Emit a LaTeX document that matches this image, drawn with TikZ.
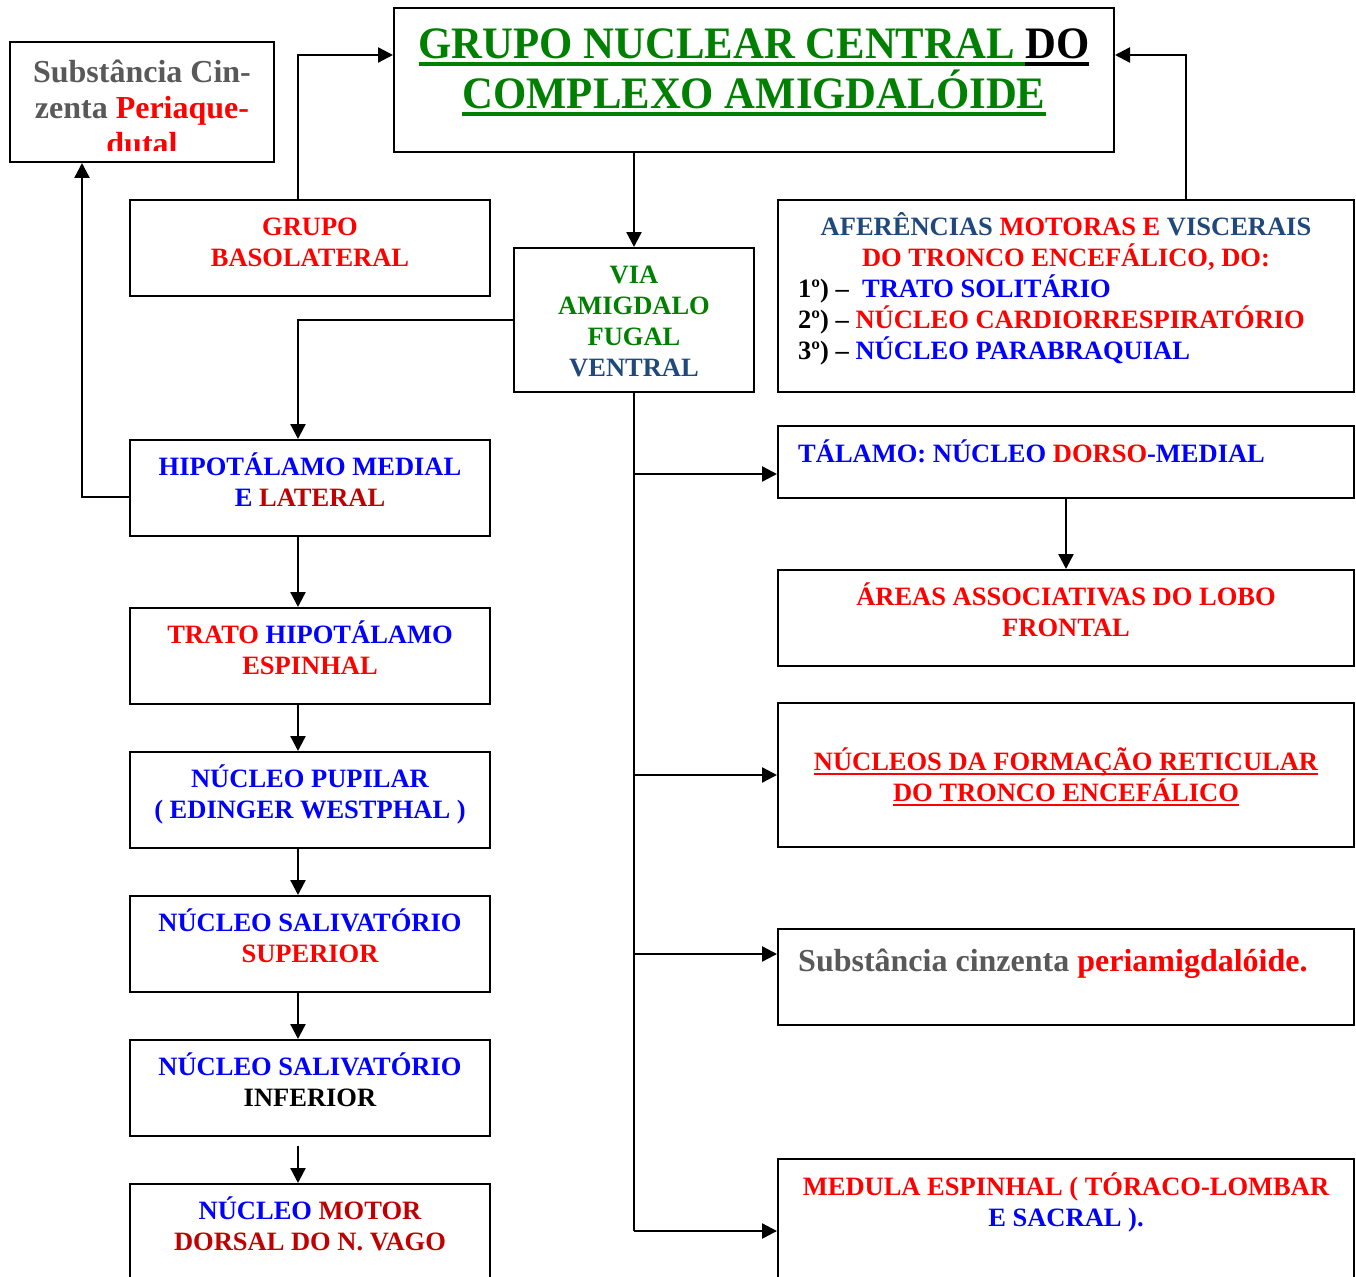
\documentclass[tikz,border=0pt]{standalone}
\usepackage{fontspec}
\setmainfont{Liberation Serif}
\usepackage{graphicx}
\usetikzlibrary{arrows.meta,calc}

\definecolor{cblue}{RGB}{0,0,255}
\definecolor{cred}{RGB}{255,0,0}
\definecolor{cdred}{RGB}{192,0,0}
\definecolor{cgreen}{RGB}{0,128,0}
\definecolor{cnavy}{RGB}{31,73,125}
\definecolor{cgray}{RGB}{89,89,89}

% fixed first-line height, so every label can be placed by its first baseline
\newcommand\fstrut{\rule{0pt}{26pt}}
% coloured underline: colour, depth below baseline, thickness, text
\newcommand\ulc[4]{\setbox0\hbox{{#4}}\rlap{\color{#1}\rule[-#2]{\wd0}{#3}}\box0}

\begin{document}
\begin{tikzpicture}[x=1pt,y=-1pt,
  box/.style={draw=black, line width=2pt, rectangle, inner sep=0pt},
  lbl/.style={inner sep=0pt, align=center, anchor=north,
              font=\fontsize{26.5}{31}\selectfont\bfseries},
  lbll/.style={lbl, align=left, anchor=north west},
  arr/.style={line width=2.4pt, -{Triangle[length=15pt,width=15pt]}},
  ln/.style={line width=2.4pt}]

\clip (0,0) rectangle (1356,1276);
\fill[white] (0,0) rectangle (1356,1276);

% ---------- boxes ----------
\node[box, minimum width=264pt, minimum height=120pt] (pag) at (142,102) {};
\node[box, minimum width=720pt, minimum height=144pt] (tt)  at (754,80) {};
\node[box, minimum width=360pt, minimum height=96pt]  (bl)  at (310,248) {};
\node[box, minimum width=240pt, minimum height=144pt] (via) at (634,320) {};
\node[box, minimum width=576pt, minimum height=192pt] (af)  at (1066,296) {};
\node[box, minimum width=360pt, minimum height=96pt]  (hip) at (310,488) {};
\node[box, minimum width=360pt, minimum height=96pt]  (tr)  at (310,656) {};
\node[box, minimum width=360pt, minimum height=96pt]  (pu)  at (310,800) {};
\node[box, minimum width=360pt, minimum height=96pt]  (ss)  at (310,944) {};
\node[box, minimum width=360pt, minimum height=96pt]  (si)  at (310,1088) {};
\node[box, minimum width=360pt, minimum height=120pt] (mo)  at (310,1244) {};
\node[box, minimum width=576pt, minimum height=72pt]  (ta)  at (1066,462) {};
\node[box, minimum width=576pt, minimum height=96pt]  (ar)  at (1066,618) {};
\node[box, minimum width=576pt, minimum height=144pt] (nf)  at (1066,775) {};
\node[box, minimum width=576pt, minimum height=96pt]  (sc)  at (1066,977) {};
\node[box, minimum width=576pt, minimum height=144pt] (me)  at (1066,1231) {};

% ---------- labels ----------
\begin{scope}
  \clip (12,44) rectangle (272,151);
  \node[lbl, font=\fontsize{32}{36}\selectfont\bfseries] (pagt) at (142,56)
    {\fstrut\color{cgray}Substância Cin-\\ \color{cgray}zenta \color{cred}Periaque-\\ \color{cred}dutal};
\end{scope}

\node[lbl, font=\fontsize{45}{50}\selectfont\bfseries] (ttt) at (754,24)
  {\rule{0pt}{34pt}\scalebox{0.95}[1]{\ulc{cgreen}{8pt}{4pt}{\color{cgreen}GRUPO NUCLEAR CENTRAL }\ulc{black}{8pt}{4pt}{\color{black}DO}}\\
   \scalebox{0.95}[1]{\ulc{cgreen}{8pt}{4pt}{\color{cgreen}COMPLEXO AMIGDALÓIDE}}};

\node[lbl] (blt) at (310,209) {\fstrut\color{cred}GRUPO\\ \color{cred}BASOLATERAL};
\node[lbl] (viat) at (634,257)
  {\fstrut\color{cgreen}VIA\\ \color{cgreen}AMIGDALO\\ \color{cgreen}FUGAL\\ \color{cnavy}VENTRAL};
\node[lbl] (aft) at (1066,209)
  {\fstrut\color{cnavy}AFERÊNCIAS \color{cred}MOTORAS E \color{cnavy}VISCERAIS\\
   \color{cred}DO TRONCO ENCEFÁLICO, DO:};
\node[lbll] (afl) at (798,271)
  {\fstrut 1º) – \ \color{cblue}TRATO SOLITÁRIO\\
   2º) – \color{cred}NÚCLEO CARDIORRESPIRATÓRIO\\
   3º) – \color{cblue}NÚCLEO PARABRAQUIAL};
\node[lbl] (hipt) at (310,449) {\fstrut\color{cblue}HIPOTÁLAMO MEDIAL\\ \color{cblue}E \color{cdred}LATERAL};
\node[lbl] (trt) at (310,617) {\fstrut\color{cred}TRATO \color{cblue}HIPOTÁLAMO\\ \color{cred}ESPINHAL};
\node[lbl] (put) at (310,761) {\fstrut\color{cblue}NÚCLEO PUPILAR\\ \color{cblue}( EDINGER WESTPHAL )};
\node[lbl] (sst) at (310,905) {\fstrut\color{cblue}NÚCLEO SALIVATÓRIO\\ \color{cred}SUPERIOR};
\node[lbl] (sit) at (310,1049) {\fstrut\color{cblue}NÚCLEO SALIVATÓRIO\\ INFERIOR};
\node[lbl] (mot) at (310,1193) {\fstrut\color{cblue}NÚCLEO \color{cdred}MOTOR\\ \color{cdred}DORSAL DO N. VAGO};
\node[lbll] (tat) at (798,436) {\fstrut\color{cblue}TÁLAMO: NÚCLEO \color{cred}DORSO\color{cblue}-MEDIAL};
\node[lbl] (art) at (1066,579) {\fstrut\color{cred}ÁREAS ASSOCIATIVAS DO LOBO\\ \color{cred}FRONTAL};
\node[lbl] (nft) at (1066,744)
  {\fstrut\ulc{cred}{4.5pt}{2pt}{\color{cred}NÚCLEOS DA FORMAÇÃO RETICULAR}\\
   \ulc{cred}{4.5pt}{2pt}{\color{cred}DO TRONCO ENCEFÁLICO}};
\node[lbll, font=\fontsize{32}{36}\selectfont\bfseries] (sct) at (798,945)
  {\fstrut\color{cgray}Substância cinzenta \color{cred}periamigdalóide.};
\node[lbl] (met) at (1066,1169)
  {\fstrut\color{cred}MEDULA ESPINHAL ( TÓRACO-LOMBAR\\ \color{cblue}E SACRAL ).};

% ---------- connectors ----------
\coordinate (taIn) at ([yshift=-12pt]ta.west);
\coordinate (scIn) at ([yshift=23pt]sc.west);

\draw[arr] ([xshift=-12pt]bl.north) |- ([yshift=-48pt]tt.north west);
\draw[arr] ([xshift=120pt]af.north) |- ([yshift=-48pt]tt.north east);
\draw[arr] (via.north |- tt.south) -- (via.north);
\draw[arr] (via.west) -| ([xshift=-12pt]hip.north);
\draw[arr] ([yshift=-9pt]hip.west) -| ([xshift=-60pt]pag.south);
\draw[arr] ([xshift=-12pt]hip.south) -- ([xshift=-12pt]tr.north);
\draw[arr] ([xshift=-12pt]tr.south) -- ([xshift=-12pt]pu.north);
\draw[arr] ([xshift=-12pt]pu.south) -- ([xshift=-12pt]ss.north);
\draw[arr] ([xshift=-12pt]ss.south) -- ([xshift=-12pt]si.north);
\draw[arr] ([xshift=-12pt,yshift=-9pt]si.south) -- ([xshift=-12pt]mo.north);

\draw[ln] (via.south) -- (via.south |- me.west);
\draw[arr] (via.south |- taIn) -- (taIn);
\draw[arr] (via.south |- nf.west) -- (nf.west);
\draw[arr] (via.south |- scIn) -- (scIn);
\draw[arr] (via.south |- me.west) -- (me.west);
\draw[arr] (ta.south) -- (ar.north);
\end{tikzpicture}
\end{document}
